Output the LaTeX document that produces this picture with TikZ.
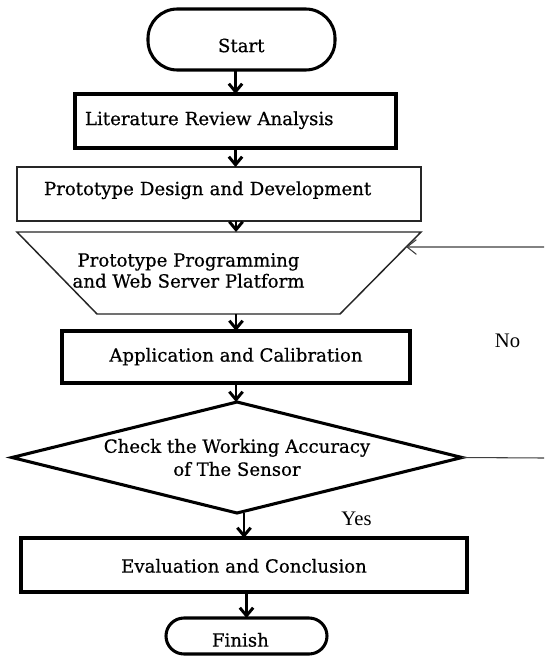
\documentclass[tikz,border=0pt]{standalone}
\usepackage{fontspec}
\setmainfont[FakeBold=0.6]{DejaVu Serif}
\newfontfamily\labelfont{Liberation Serif}
\usetikzlibrary{arrows.meta,calc,shapes.geometric}

\begin{document}
\begin{tikzpicture}[x=0.75pt,y=-0.75pt,
  heavy/.style={draw=black,line width=2.3pt},
  light/.style={draw=black!85,line width=1.1pt},
  plain/.style={inner sep=0pt,outer sep=0pt,font=\fontsize{13.6}{16}\selectfont},
  flow/.style={line width=2.2pt,-{Straight Barb[length=6pt,width=10pt]}},
  back/.style={draw=black!75,line width=0.8pt},
  sidelabel/.style={font=\labelfont\fontsize{15.5}{18}\selectfont,inner sep=0pt}
]
\useasboundingbox[fill=white] (0,0) rectangle (544,659);

% terminals and process boxes
\node[plain,heavy,rounded corners=22pt,minimum width=140.25pt,minimum height=45.75pt,
      text width=35.25pt,align=left,text height=18.9pt,text depth=0pt]
      (start) at (241.5,39.5) {Start};
\node[plain,heavy,minimum width=240.75pt,minimum height=40.5pt,
      text width=225.75pt,align=left,text height=10.3pt,text depth=4.2pt]
      (lit) at (235.5,121) {Literature Review Analysis};
\node[plain,light,minimum width=303pt,minimum height=40.5pt,
      text width=262.5pt,align=left,text height=10.3pt,text depth=8.6pt]
      (design) at (219,194) {Prototype Design and Development};

% inverted trapezium for the programming stage
\coordinate (pTL) at (17,232);
\coordinate (pTR) at (421,232);
\coordinate (pBR) at (340,314);
\coordinate (pBL) at (97,314);
\draw[light,line join=miter] (pTL) -- (pTR) -- (pBR) -- (pBL) -- cycle;
\node[plain,align=center,font=\fontsize{13.6}{15.75}\selectfont]
      (prog) at (188.5,270.5) {Prototype Programming\\and Web Server Platform};
\coordinate (progedge) at ($(pTR)!0.183!(pBR)$);

\node[plain,heavy,minimum width=261pt,minimum height=39pt,
      text height=10.3pt,text depth=3.4pt]
      (app) at (236,357) {Application and Calibration};

% decision
\node[diamond,aspect=4.05,heavy,plain,align=center,font=\fontsize{13.6}{17.25}\selectfont,
      minimum width=337.5pt,minimum height=83.25pt]
      (chk) at (237,457.5) {Check the Working Accuracy\\of The Sensor};

\node[plain,heavy,minimum width=334.5pt,minimum height=40.5pt,
      text height=11.4pt,text depth=0pt]
      (eval) at (244,565) {Evaluation and Conclusion};
\node[plain,heavy,rounded corners=13.5pt,minimum width=120.75pt,minimum height=27pt,
      text width=51.75pt,align=left,text height=15.9pt,text depth=0pt]
      (finish) at (246.5,636) {Finish};

% main flow
\draw[flow] (lit.north |- start.south) -- (lit.north);
\draw[flow] (lit.south) -- (lit.south |- design.north);
\draw[flow] (app.north |- design.south) -- (app.north |- pTL);
\draw[flow] (app.north |- pBL) -- (app.north);
\draw[flow] (app.south) -- (app.south |- chk.north);
\draw[flow] (eval.north |- chk.south) -- (eval.north);
\draw[flow] (finish.north |- eval.south) -- (finish.north);

% "No" return path
\coordinate (loopout) at (544,458);
\coordinate (loopin) at (544,247);
\draw[back] (chk.east) -- (loopout);
\draw[back,-{Straight Barb[length=7pt,width=11pt]}] (loopin) -- (progedge);

\node[sidelabel,anchor=base] (nolbl) at (507.5,347) {No};
\node[sidelabel,anchor=base] (yeslbl) at (356.5,525) {Yes};
\end{tikzpicture}
\end{document}
